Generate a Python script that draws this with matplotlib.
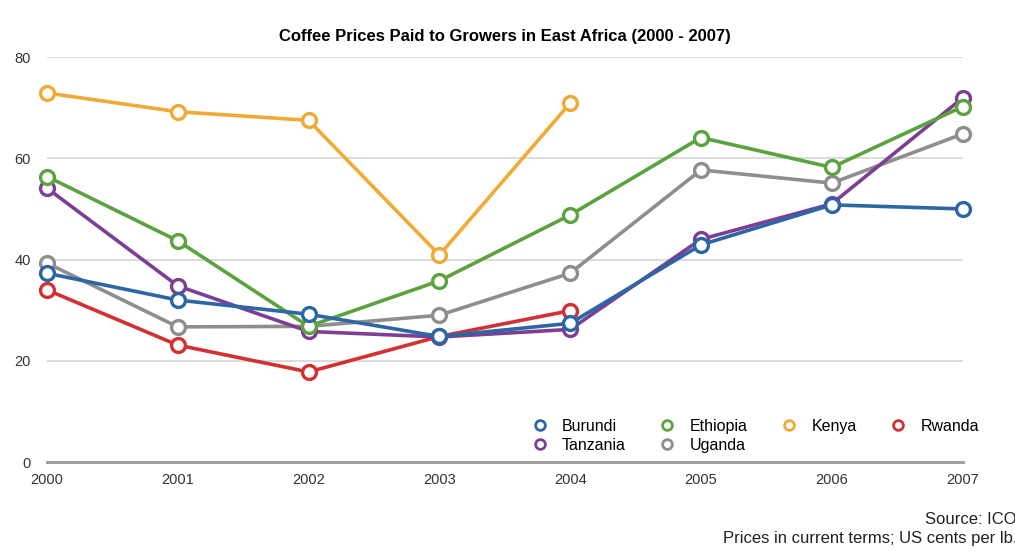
import matplotlib
matplotlib.use('Agg')
import matplotlib.pyplot as plt

plt.rcParams['font.family'] = ['Liberation Sans', 'DejaVu Sans']

# Data (US cents per lb)
years = [2000, 2001, 2002, 2003, 2004, 2005, 2006, 2007]
burundi = [37.3, 32.0, 29.2, 24.8, 27.4, 42.9, 50.8, 50.0]
ethiopia = [56.4, 43.7, 26.8, 35.8, 48.8, 64.1, 58.2, 70.2]
kenya = [72.9, 69.2, 67.5, 40.9, 70.9, None, None, None]
rwanda = [34.0, 23.1, 17.8, 24.8, 29.9, None, None, None]
tanzania = [54.1, 34.8, 25.8, 24.7, 26.2, 44.0, 51.0, 71.9]
uganda = [39.3, 26.7, 26.8, 29.0, 37.3, 57.7, 55.1, 64.8]

colors = {
    "Burundi": "#2d66a5",
    "Ethiopia": "#5ba33f",
    "Kenya": "#f1aa36",
    "Rwanda": "#d33131",
    "Tanzania": "#7d3f94",
    "Uganda": "#8e8e8e",
}

fig = plt.figure(figsize=(10.15, 5.54), dpi=100)
ax = fig.add_axes([0.0463, 0.166, 0.902, 0.731])


def draw(name, vals, z):
    xs = [x for x, v in zip(years, vals) if v is not None]
    ys = [v for v in vals if v is not None]
    ax.plot(xs, ys, color=colors[name], lw=2.6, marker="o", ms=10,
            mfc="white", mec=colors[name], mew=2.4, clip_on=False, zorder=z)


# draw order roughly as in the original
draw("Kenya", kenya, 3)
draw("Rwanda", rwanda, 4)
draw("Uganda", uganda, 5)
draw("Tanzania", tanzania, 6)
draw("Ethiopia", ethiopia, 7)
draw("Burundi", burundi, 8)

ax.set_xlim(2000, 2007)
ax.set_ylim(0, 80)
ax.set_yticks([0, 20, 40, 60, 80])
ax.set_xticks(years)
ax.set_xticklabels([str(y) for y in years])
ax.grid(axis="y", color="#d6d6d6", lw=1.2)
ax.set_axisbelow(True)
for s in ["top", "right", "left"]:
    ax.spines[s].set_visible(False)
ax.spines["bottom"].set_color("#a0a0a0")
ax.spines["bottom"].set_linewidth(2.2)
ax.tick_params(axis="both", length=0, labelsize=10.5, colors="#333333")
ax.tick_params(axis="y", pad=11.5)
ax.tick_params(axis="x", pad=8)

ax.set_title("Coffee Prices Paid to Growers in East Africa (2000 - 2007)",
             fontsize=12, fontweight="bold", pad=11.5)

# legend: open circle markers only
order = ["Burundi", "Tanzania", "Ethiopia", "Uganda", "Kenya", "Rwanda"]
handles = [plt.Line2D([], [], ls="none", marker="o", ms=7, mfc="white",
                      mec=colors[n], mew=2) for n in order]
ax.legend(handles, order, ncol=4, loc="upper left",
          bbox_to_anchor=(0.5222, 0.2437), bbox_transform=fig.transFigure,
          frameon=False, fontsize=11.5, borderpad=0, borderaxespad=0,
          handletextpad=0.8, columnspacing=2.0, labelspacing=0.25,
          handlelength=1.2)

fig.text(1.002, 1 - 519 / 554, "Source: ICO", ha="right", va="center",
         fontsize=12, color="#222222")
fig.text(1.002, 1 - 538 / 554, "Prices in current terms; US cents per lb.",
         ha="right", va="center", fontsize=12, color="#222222")

fig.savefig("out.png", dpi=100)
